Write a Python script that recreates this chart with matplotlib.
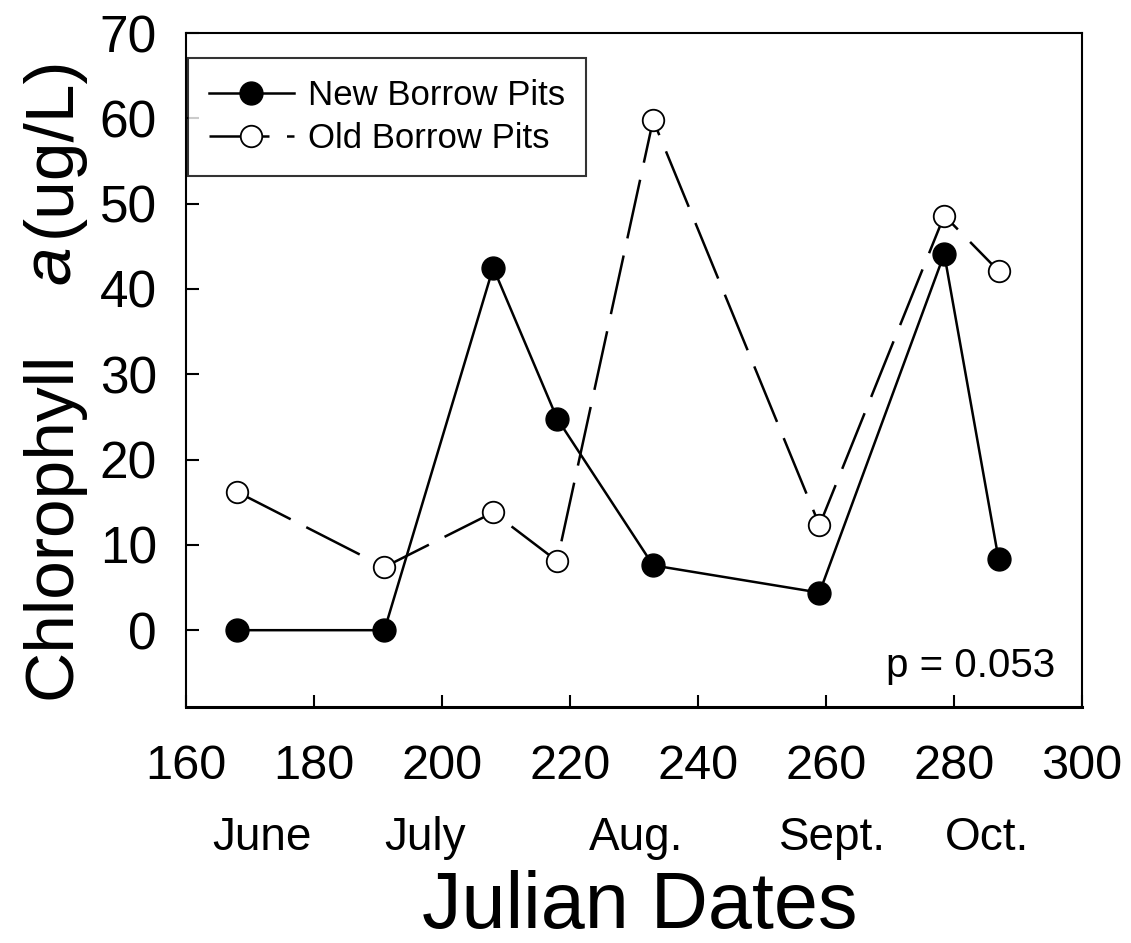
import matplotlib
matplotlib.use("Agg")
import matplotlib.pyplot as plt
import matplotlib.transforms as mtransforms

# Julian dates and chlorophyll a (ug/L)
new_days = [168, 191, 208, 218, 233, 259, 278.5, 287]
new_chl = [0.0, 0.0, 42.5, 24.8, 7.6, 4.4, 44.1, 8.3]
old_days = [168, 191, 208, 218, 233, 259, 278.5, 287]
old_chl = [16.2, 7.4, 13.8, 8.1, 59.8, 12.3, 48.6, 42.1]

month_names = ["June", "July", "Aug.", "Sept.", "Oct."]
month_pos = [171.9, 197.3, 230.3, 261.0, 285.2]

xticks = [160, 180, 200, 220, 240, 260, 280, 300]
yticks = [0, 10, 20, 30, 40, 50, 60, 70]

plt.rcParams["font.family"] = ["Liberation Sans", "DejaVu Sans"]

fig = plt.figure(figsize=(11.31, 9.43), dpi=100)
ax = fig.add_axes([0.1645, 0.2503, 0.792, 0.7147])

lw = 1.8
ax.plot(new_days, new_chl, color="black", lw=lw, marker="o", ms=16.5,
        mfc="black", mec="black", label="New Borrow Pits", zorder=3)
ax.plot(old_days, old_chl, color="black", lw=lw, marker="o", ms=15.5,
        mfc="white", mec="black", mew=1.3, dashes=(24, 7),
        label="Old Borrow Pits", zorder=3)

ax.set_xlim(160, 300)
ax.set_ylim(-9, 70)
ax.set_xticks(xticks)
ax.set_yticks(yticks)
ax.tick_params(axis="x", direction="in", length=9, width=1.5, pad=27, labelsize=35)
ax.tick_params(axis="y", direction="in", length=9, width=1.5, pad=21, labelsize=37)
for side in ["left", "right", "top"]:
    ax.spines[side].set_linewidth(1.5)
ax.spines["bottom"].set_linewidth(2.2)

leg = ax.legend(loc="upper left", bbox_to_anchor=(0.002, 0.963), fontsize=25,
                frameon=True, fancybox=False, edgecolor="black", borderpad=0.6,
                handlelength=2.45, handletextpad=0.4, labelspacing=0.3,
                borderaxespad=0)
leg.get_frame().set_linewidth(1.5)

ax.text(295.8, -5.5, "p = 0.053", ha="right", va="baseline", fontsize=29)

trans = mtransforms.blended_transform_factory(ax.transData, fig.transFigure)
for name, pos in zip(month_names, month_pos):
    ax.text(pos, 0.0986, name, transform=trans, ha="center", va="baseline",
            fontsize=33, clip_on=False)

fig.text(640 / 1131, 15 / 943, "Julian Dates", ha="center", va="baseline",
         fontsize=57)

# y label in three pieces, the "a" in italics with a wide gap before it
ylab_x = 70 / 1131
for txt, yc, style in [("Chlorophyll", 525, "normal"), ("a", 265, "italic"),
                       ("(ug/L)", 146, "normal")]:
    fig.text(ylab_x, 1 - yc / 943, txt, rotation=90, rotation_mode="anchor",
             ha="center", va="baseline", fontsize=50, style=style)

fig.savefig("out.png", dpi=100)
